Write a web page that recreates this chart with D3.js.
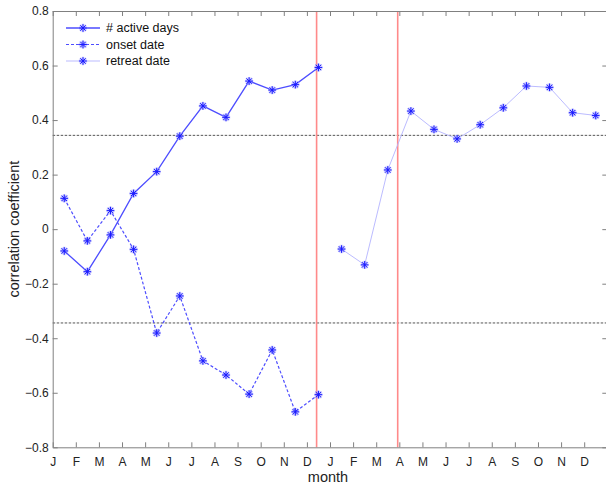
<!DOCTYPE html>
<html>
<head>
<meta charset="UTF-8">
<script src="https://d3js.org/d3.v7.min.js"></script>
<style>
  body { margin: 0; background: #fff; }
  text { font-family: "Liberation Sans", Arial, Helvetica, sans-serif; }
</style>
</head>
<body>
<script>
// month tick labels (two years)
const months = ["J","F","M","A","M","J","J","A","S","O","N","D"];
const tickLabels = months.concat(months);

// correlation coefficients, one per month
const activeDays  = [-0.080, -0.156, -0.021, 0.131, 0.211, 0.341, 0.452, 0.410, 0.543, 0.510, 0.530, 0.593];
const onsetDate   = [0.113, -0.043, 0.068, -0.074, -0.381, -0.245, -0.483, -0.535, -0.605, -0.443, -0.670, -0.607];
const retreatDate = [-0.073, -0.131, 0.217, 0.433, 0.366, 0.331, 0.383, 0.445, 0.525, 0.520, 0.427, 0.417];

// significance level and the two red marker lines (in month units)
const signif = [0.344, -0.344];
const redLines = [11.42, 14.93];
const yTicks = [-0.8, -0.6, -0.4, -0.2, 0, 0.2, 0.4, 0.6, 0.8];

const W = 606, H = 486;
const plot = {left: 52.7, right: 607.3, top: 11, bottom: 447.3};

const svg = d3.select("body").append("svg")
  .attr("width", W).attr("height", H);

const x = d3.scaleLinear().domain([0, 24]).range([plot.left, plot.right]);
const y = d3.scaleLinear().domain([-0.8, 0.8]).range([plot.bottom, plot.top]);

// reference lines
svg.selectAll(".sig").data(signif).enter().append("line")
  .attr("x1", plot.left).attr("x2", plot.right)
  .attr("y1", d => y(d)).attr("y2", d => y(d))
  .attr("stroke", "#555").attr("stroke-width", 1)
  .attr("stroke-dasharray", "2.5,1.5");

svg.selectAll(".red").data(redLines).enter().append("line")
  .attr("x1", d => x(d)).attr("x2", d => x(d))
  .attr("y1", plot.top).attr("y2", plot.bottom)
  .attr("stroke", "#ff8a8a").attr("stroke-width", 1.6);

// axes
const axisColor = "#808080";
function styleAxis(g, labels) {
  g.selectAll("path, line").attr("stroke", axisColor);
  g.selectAll("text").attr("fill", "#222").style("font-size", "12px");
  if (!labels) g.selectAll("text").remove();
}

const monthTicks = d3.range(0, 24);
svg.append("g").attr("transform", `translate(0,${plot.bottom})`)
  .call(d3.axisBottom(x).tickValues(monthTicks).tickFormat(i => tickLabels[i])
    .tickSize(-5).tickSizeOuter(0).tickPadding(10))
  .call(g => styleAxis(g, true));
svg.append("g").attr("transform", `translate(0,${plot.top})`)
  .call(d3.axisTop(x).tickValues(monthTicks).tickSize(-5).tickSizeOuter(0))
  .call(g => styleAxis(g, false));
svg.append("g").attr("transform", `translate(${plot.left},0)`)
  .call(d3.axisLeft(y).tickValues(yTicks).tickFormat(d => d === 0 ? "0" : d3.format(".1f")(d))
    .tickSize(-5).tickSizeOuter(0).tickPadding(4))
  .call(g => styleAxis(g, true));
svg.append("g").attr("transform", `translate(${plot.right},0)`)
  .call(d3.axisRight(y).tickValues(yTicks).tickSize(-5).tickSizeOuter(0))
  .call(g => styleAxis(g, false));

// series
const series = [
  {name: "# active days", values: activeDays, offset: 0, stroke: "#4d4dff", width: 1.3, dash: null},
  {name: "onset date", values: onsetDate, offset: 0, stroke: "#4d4dff", width: 1.2, dash: "3,2"},
  {name: "retreat date", values: retreatDate, offset: 12, stroke: "#b3b3ff", width: 0.9, dash: null}
];

const line = d3.line().x(d => x(d.m)).y(d => y(d.v));

function asterisk(r) {
  const d = r * 0.707;
  return `M${-r},0L${r},0M0,${-r}L0,${r}M${-d},${-d}L${d},${d}M${-d},${d}L${d},${-d}`;
}

function drawMarker(g, cx, cy) {
  g.append("path").attr("d", asterisk(4.2)).attr("transform", `translate(${cx},${cy})`)
    .attr("stroke", "#9a9aff").attr("stroke-width", 2.4).attr("stroke-opacity", 0.55).attr("fill", "none");
  g.append("path").attr("d", asterisk(3.8)).attr("transform", `translate(${cx},${cy})`)
    .attr("stroke", "#1a1aff").attr("stroke-width", 1).attr("fill", "none");
}

series.forEach(s => {
  const pts = s.values.map((v, i) => ({m: s.offset + i + 0.5, v: v}));
  svg.append("path").datum(pts).attr("d", line)
    .attr("fill", "none").attr("stroke", s.stroke).attr("stroke-width", s.width)
    .attr("stroke-dasharray", s.dash);
  const mg = svg.append("g");
  pts.forEach(p => drawMarker(mg, x(p.m), y(p.v)));
});

// legend
const legend = svg.append("g");
series.forEach((s, i) => {
  const ly = 28 + i * 16.5;
  legend.append("line").attr("x1", 66).attr("x2", 100).attr("y1", ly).attr("y2", ly)
    .attr("stroke", s.stroke).attr("stroke-width", s.width).attr("stroke-dasharray", s.dash);
  drawMarker(legend, 83, ly);
  legend.append("text").attr("x", 106).attr("y", ly + 4.3)
    .attr("fill", "#111").style("font-size", "12.5px").text(s.name);
});

// axis titles
svg.append("text").attr("x", (plot.left + plot.right) / 2 - 2).attr("y", 482)
  .attr("text-anchor", "middle").attr("fill", "#222").style("font-size", "14.5px").text("month");
svg.append("text").attr("transform", `translate(19,${(plot.top + plot.bottom) / 2}) rotate(-90)`)
  .attr("text-anchor", "middle").attr("fill", "#222").style("font-size", "14.5px")
  .text("correlation coefficient");
</script>
</body>
</html>
